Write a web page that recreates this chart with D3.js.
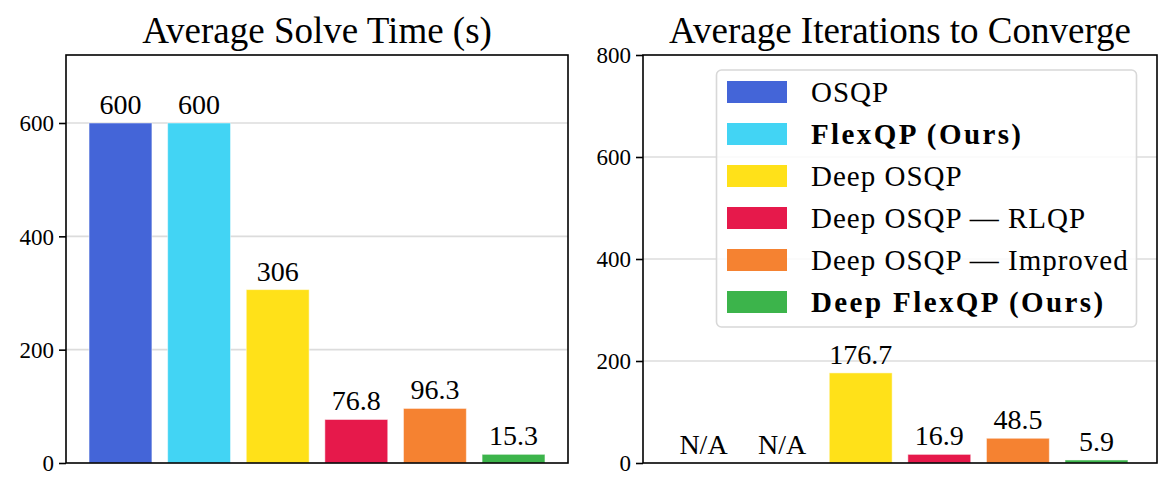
<!DOCTYPE html>
<html><head><meta charset="utf-8">
<script src="https://cdn.jsdelivr.net/npm/d3@7"></script>
<style>
body{margin:0;background:#fff;}
text{font-family:"Liberation Serif","DejaVu Serif",serif;fill:#000;}
</style></head><body>
<svg id="c" width="1167" height="492"></svg>
<script>
const methods = ["OSQP","FlexQP (Ours)","Deep OSQP","Deep OSQP — RLQP","Deep OSQP — Improved","Deep FlexQP (Ours)"];
const boldMethods = [false,true,false,false,false,true];
const colors = ["#4465d8","#42d4f4","#ffe119","#e6194b","#f58231","#3cb44b"];
const solveTime = [600,600,306,76.8,96.3,15.3];
const solveLabels = ["600","600","306","76.8","96.3","15.3"];
const iterations = [null,null,176.7,16.9,48.5,5.9];
const iterLabels = ["N/A","N/A","176.7","16.9","48.5","5.9"];
const leftTicks = [0,200,400,600];
const rightTicks = [0,200,400,600,800];

const svg = d3.select("#c");

function panel(opts){
  const g = svg.append("g");
  const {x0,x1,y0,y1,ymax,vals,labels,ticks,title,pad} = opts;
  const n = vals.length;
  const x = d3.scaleLinear().domain([-pad, n-1+pad]).range([x0,x1]);
  const bw = x(0.4)-x(-0.4);
  const y = d3.scaleLinear().domain([0,ymax]).range([y1,y0]);
  // grid
  g.selectAll("line.grid").data(ticks.filter(t=>t>0 && t<ymax)).enter().append("line")
    .attr("x1",x0).attr("x2",x1).attr("y1",d=>y(d)).attr("y2",d=>y(d))
    .attr("stroke","#dcdcdc").attr("stroke-width",1.6);
  // bars
  g.selectAll("rect.bar").data(vals).enter().append("rect")
    .attr("x",(d,i)=>x(i-0.4)).attr("width",bw)
    .attr("y",d=>y(d||0)).attr("height",d=>y1-y(d||0))
    .attr("fill",(d,i)=>colors[i]).attr("stroke","rgba(255,255,255,0.5)").attr("stroke-width",1);
  // value labels
  g.selectAll("text.val").data(vals).enter().append("text")
    .attr("x",(d,i)=>x(i)).attr("y",d=>y(d||0)-9)
    .attr("text-anchor","middle").attr("font-size",28)
    .text((d,i)=>labels[i]);
  // axis
  const ax = d3.axisLeft(y).tickValues(ticks).tickSize(7).tickPadding(5).tickFormat(d3.format("d"));
  const ag = g.append("g").attr("transform",`translate(${x0},0)`).call(ax);
  ag.select(".domain").remove();
  ag.selectAll("line").attr("stroke","#000").attr("stroke-width",1.6);
  ag.selectAll("text").attr("font-size",23).attr("dy","0.34em").style("font-family",'"Liberation Serif",serif');
  // frame
  g.append("rect").attr("x",x0).attr("y",y0).attr("width",x1-x0).attr("height",y1-y0)
    .attr("fill","none").attr("stroke","#000").attr("stroke-width",1.6);
  g.append("text").attr("x",(x0+x1)/2).attr("y",43).attr("text-anchor","middle")
    .attr("font-size",37).text(title);
  return {x,y};
}

panel({x0:66,x1:568,y0:55,y1:463,ymax:720,vals:solveTime,labels:solveLabels,ticks:leftTicks,title:"Average Solve Time (s)",pad:0.693});
panel({x0:643,x1:1157,y0:55,y1:463,ymax:800,vals:iterations,labels:iterLabels,ticks:rightTicks,title:"Average Iterations to Converge",pad:0.77});

// legend
const lg = svg.append("g");
lg.append("rect").attr("x",716.5).attr("y",70).attr("width",420).attr("height",257).attr("rx",5)
  .attr("fill","rgba(255,255,255,0.85)").attr("stroke","#d8d8d8").attr("stroke-width",1.6);
const ly = d3.scalePoint().domain(d3.range(methods.length)).range([92,302]);
methods.forEach((m,i)=>{
  lg.append("rect").attr("x",727).attr("y",ly(i)-11).attr("width",60).attr("height",22).attr("fill",colors[i]);
  lg.append("text").attr("x",811).attr("y",ly(i)+10).attr("font-size",29).attr("letter-spacing",boldMethods[i]?2.4:1)
    .attr("font-weight",boldMethods[i]?"bold":"normal").text(m);
});
</script></body></html>
